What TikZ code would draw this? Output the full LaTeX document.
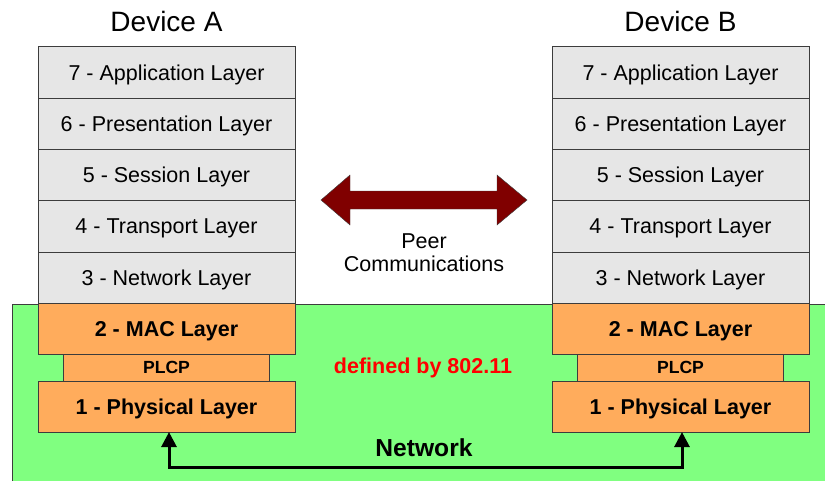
\documentclass[tikz,border=0pt]{standalone}
\usepackage{fontspec}
\setmainfont{Liberation Sans}
\usetikzlibrary{positioning,arrows.meta}
\definecolor{layergray}{RGB}{230,230,230}
\definecolor{macorange}{RGB}{255,172,92}
\definecolor{netgreen}{RGB}{128,255,128}
\definecolor{peerred}{RGB}{128,0,0}
\definecolor{edgegray}{RGB}{60,60,60}
\tikzset{
  layer/.style={draw=edgegray, fill=layergray, minimum width=257pt, minimum height=51.3pt,
    inner sep=0pt, outer sep=0pt, text height=15.4pt, text depth=0pt,
    font=\fontsize{21.5}{24}\selectfont},
  wlayer/.style={layer, fill=macorange, font=\fontsize{21.5}{24}\selectfont\bfseries},
  plcp/.style={wlayer, minimum width=206pt, minimum height=26.3pt, text height=11.8pt,
    font=\fontsize{17.6}{20}\selectfont\bfseries},
  devtitle/.style={font=\fontsize{28}{32}\selectfont},
}
\begin{document}
\begin{tikzpicture}[x=1pt,y=-1pt]
\useasboundingbox (0,0) rectangle (825,480);
% green area for 802.11
\filldraw[fill=netgreen, draw=edgegray] (12,304) rectangle (840,500);

% the two protocol stacks
\foreach \dev/\x/\name in {a/166.5/Device A, b/680.5/Device B} {
  \node[devtitle] (\dev title) at (\x,21) {\name};
  \node[layer] (\dev7) at (\x,72.3) {7 - Application Layer};
  \node[layer, below=0pt of \dev7] (\dev6) {6 - Presentation Layer};
  \node[layer, below=0pt of \dev6] (\dev5) {5 - Session Layer};
  \node[layer, below=0pt of \dev5] (\dev4) {4 - Transport Layer};
  \node[layer, below=0pt of \dev4] (\dev3) {3 - Network Layer};
  \node[wlayer, below=0pt of \dev3] (\dev2) {2 - MAC Layer};
  \node[plcp, below=0pt of \dev2] (\dev plcp) {PLCP};
  \node[wlayer, below=0pt of \dev plcp] (\dev1) {1 - Physical Layer};
}

% peer arrow
\filldraw[fill=peerred, draw=edgegray] (321,200) -- (350,175) -- (350,191) -- (497,191) -- (497,175)
  -- (527,200) -- (497,225) -- (497,209) -- (350,209) -- (350,225) -- cycle;
\node[align=center, font=\fontsize{21.5}{23.5}\selectfont] (peer) at (424,252.5) {Peer\\Communications};

\node[font=\fontsize{21.5}{24}\selectfont\bfseries, text=red] (std) at (423,368) {defined by 802.11};
\node[font=\fontsize{24.6}{28}\selectfont\bfseries] (net) at (424,448) {Network};

% network link
\draw[line width=3pt, {Triangle[length=15pt,width=15pt]}-{Triangle[length=15pt,width=15pt]}]
  ([xshift=2.5pt]a1.south) -- ++(0,35) -| ([xshift=1.5pt]b1.south);
\end{tikzpicture}
\end{document}
